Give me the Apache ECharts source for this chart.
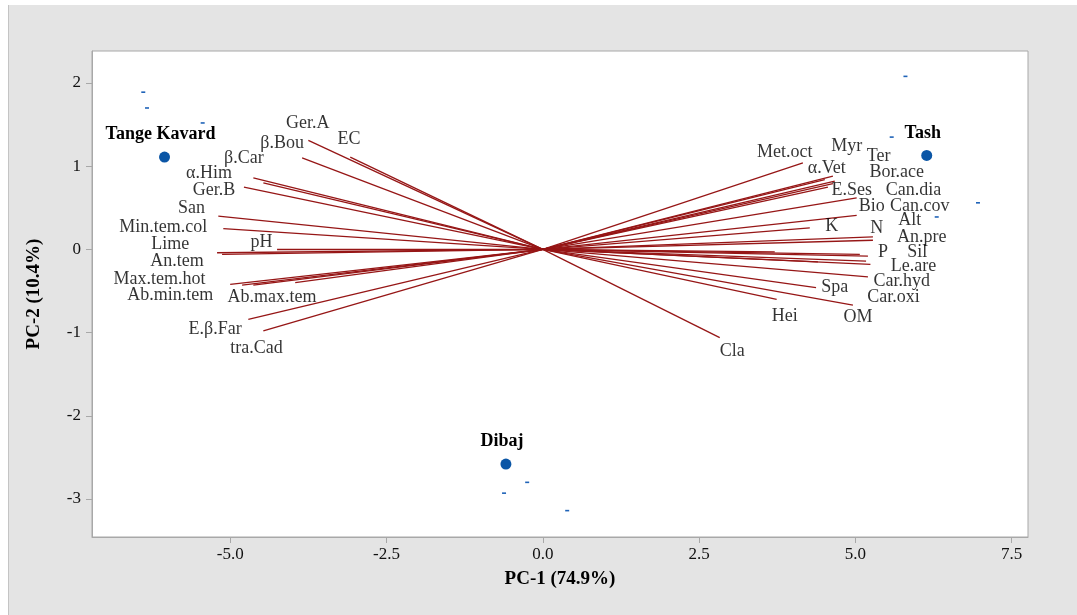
<!DOCTYPE html>
<html>
<head>
<meta charset="utf-8">
<script src="https://cdn.jsdelivr.net/npm/echarts@6/dist/echarts.min.js"></script>
<style>
html,body{margin:0;padding:0;background:#ffffff;}
#bg{position:absolute;left:8px;top:5px;width:1069px;height:610px;background:#e4e4e4;border-left:1px solid #c4c4c4;box-sizing:border-box;}
#main{position:absolute;left:0;top:0;width:1077px;height:615px;}
</style>
</head>
<body>
<div id="bg"></div>
<div id="main"></div>
<script>
// Tick labels
const xTicks = [-5, -2.5, 0, 2.5, 5, 7.5];
const yTicks = [-3, -2, -1, 0, 1, 2];

// Site scores (PC-1, PC-2)
const siteNames = ['Tange Kavard', 'Tash', 'Dibaj'];
const siteX = [-6.05, 6.14, -0.59];
const siteY = [1.11, 1.13, -2.58];

// Replicate scores (small dashes)
const repX = [-6.39, -6.33, -5.44, 5.80, 5.58, 6.96, 6.30, -0.25, -0.62, 0.39];
const repY = [1.89, 1.70, 1.52, 2.08, 1.35, 0.56, 0.39, -2.80, -2.93, -3.14];

// Variable loadings (arrow tips)
const varNames = ['Ger.A','EC','β.Bou','β.Car','α.Him','Ger.B','San','Min.tem.col','Lime','pH','An.tem','Max.tem.hot','Ab.min.tem','','Ab.max.tem','E.β.Far','tra.Cad',
  'Met.oct','Myr','α.Vet','Ter','Bor.ace','E.Ses','Can.dia','Bio','Can.cov','K','N','Alt','An.pre','P','Sil','Le.are','Car.hyd','Spa','Car.oxi','Hei','OM','Cla'];
const varX = [-3.75,-3.08,-3.85,-4.47,-4.63,-4.78,-5.19,-5.11,-5.21,-4.25,-5.13,-5.00,-4.81,-4.63,-3.96,-4.71,-4.47,
  4.16,4.64,4.51,4.67,4.64,4.56,5.02,5.02,3.71,4.27,5.28,5.28,5.24,5.07,5.20,5.17,5.20,4.37,4.40,3.74,4.96,2.83];
const varY = [1.31,1.11,1.10,0.80,0.86,0.75,0.40,0.25,-0.04,0.00,-0.06,-0.42,-0.43,-0.43,-0.40,-0.84,-0.98,
  1.04,0.88,0.84,0.82,0.79,0.75,0.62,0.41,-0.03,0.26,0.15,0.11,-0.18,-0.06,-0.08,-0.14,-0.33,-0.46,-0.15,-0.60,-0.67,-1.06];
// Variable label anchors (data units)
const labX = [-3.76,-3.10,-4.17,-4.78,-5.34,-5.26,-5.62,-6.07,-5.96,-4.50,-5.85,-6.13,-5.96,-4.63,-4.33,-5.24,-4.58,
  3.87,4.86,4.54,5.37,5.66,4.94,5.93,5.26,6.03,4.62,5.34,5.87,6.06,5.44,5.99,5.93,5.74,4.67,5.61,3.87,5.04,3.03];
const labY = [1.52,1.33,1.28,1.09,0.92,0.71,0.50,0.27,0.06,0.09,-0.14,-0.36,-0.55,-0.43,-0.58,-0.96,-1.19,
  1.17,1.24,0.98,1.12,0.93,0.71,0.71,0.52,0.52,0.28,0.25,0.35,0.14,-0.04,-0.04,-0.20,-0.38,-0.45,-0.58,-0.80,-0.81,-1.23];

const serif = "'Liberation Serif','DejaVu Serif',serif";
const chart = echarts.init(document.getElementById('main'), null, {renderer: 'canvas'});

chart.setOption({
  backgroundColor: 'transparent',
  animation: false,
  grid: {left: 92, top: 51, width: 936, height: 486, show: true, backgroundColor: '#ffffff', borderColor: '#a8a8a8', borderWidth: 1},
  xAxis: {
    type: 'value', min: -7.21, max: 7.76,
    name: 'PC-1 (74.9%)', nameLocation: 'middle', nameGap: 33,
    nameTextStyle: {fontFamily: serif, fontWeight: 'bold', fontSize: 19, color: '#000'},
    axisLine: {show: true, onZero: false, lineStyle: {color: '#a8a8a8'}},
    axisTick: {show: true, length: 6, customValues: xTicks, lineStyle: {color: '#a8a8a8'}},
    axisLabel: {customValues: xTicks, margin: 9, fontFamily: serif, fontSize: 17, color: '#111', formatter: v => v.toFixed(1)},
    splitLine: {show: false}
  },
  yAxis: {
    type: 'value', min: -3.457, max: 2.385,
    name: 'PC-2 (10.4%)', nameLocation: 'middle', nameGap: 48,
    nameTextStyle: {fontFamily: serif, fontWeight: 'bold', fontSize: 19, color: '#000'},
    axisLine: {show: true, onZero: false, lineStyle: {color: '#a8a8a8'}},
    axisTick: {show: true, length: 6, customValues: yTicks, lineStyle: {color: '#a8a8a8'}},
    axisLabel: {customValues: yTicks, margin: 11, fontFamily: serif, fontSize: 17, color: '#111', formatter: v => String(v)},
    splitLine: {show: false}
  },
  series: [
    {
      type: 'lines', coordinateSystem: 'cartesian2d', silent: true, z: 2,
      lineStyle: {color: '#961616', width: 1.3, opacity: 1},
      data: varX.map((x, i) => ({coords: [[0, 0], [x, varY[i]]]}))
    },
    {
      type: 'scatter', silent: true, z: 3, symbol: 'circle', symbolSize: 1,
      itemStyle: {color: 'rgba(0,0,0,0)'},
      label: {show: true, position: 'inside', formatter: '{b}', fontFamily: serif, fontSize: 18, color: '#000'},
      data: labX.map((x, i) => ({name: varNames[i], value: [x, labY[i]]}))
    },
    {
      type: 'scatter', silent: true, z: 4, symbol: 'rect', symbolSize: [4, 1.6],
      itemStyle: {color: '#1f63b8', opacity: 1},
      data: repX.map((x, i) => [x, repY[i]])
    },
    {
      type: 'scatter', silent: true, z: 5, symbol: 'circle', symbolSize: 11,
      itemStyle: {color: '#0b56a6', opacity: 1},
      label: {show: true, position: 'top', distance: 8, offset: [-4, 0], formatter: '{b}', fontFamily: serif, fontWeight: 'bold', fontSize: 18, color: '#000'},
      data: siteX.map((x, i) => ({name: siteNames[i], value: [x, siteY[i]]}))
    }
  ]
});
</script>
</body>
</html>
